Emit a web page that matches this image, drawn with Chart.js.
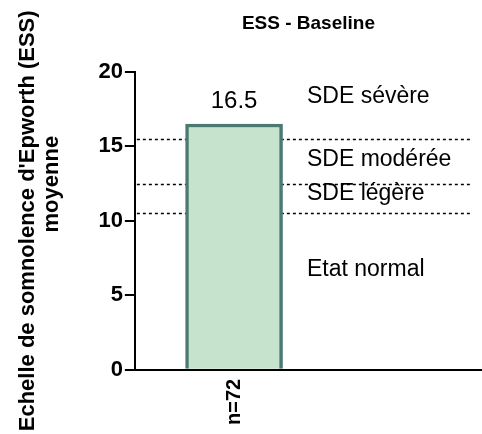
<!DOCTYPE html>
<html>
<head>
<meta charset="utf-8">
<script src="https://cdn.jsdelivr.net/npm/chart.js@4"></script>
<style>
  html, body { margin: 0; padding: 0; background: #fff; }
  #wrap { width: 482px; height: 434px; }
</style>
</head>
<body>
<div id="wrap"><canvas id="essChart"></canvas></div>
<script>
// data
const categories = ['n=72'];
const meanEss = [16.5];
const yTickStep = 5;
const thresholds = [10.5, 12.5, 15.5];
const bandLabels = ['SDE sévère', 'SDE modérée', 'SDE légère', 'Etat normal'];
const bandLabelLevels = [18.35, 14.1, 11.8, 6.7];

const FONT = "'Liberation Sans', Arial, sans-serif";

// dotted severity lines, band labels and the value over the bar
const overlay = {
    id: 'overlay',
    beforeDatasetsDraw(chart) {
        const { ctx, scales: { x, y } } = chart;
        ctx.save();
        ctx.setLineDash([3, 3]);
        ctx.lineWidth = 1.5;
        ctx.strokeStyle = '#000';
        thresholds.forEach(t => {
            const py = Math.round(y.getPixelForValue(t)) + 0.5;
            ctx.beginPath();
            ctx.moveTo(x.getPixelForValue(0) + 2, py);
            ctx.lineTo(x.getPixelForValue(3.4), py);
            ctx.stroke();
        });
        ctx.restore();
    },
    afterDatasetsDraw(chart) {
        const { ctx, scales: { x, y } } = chart;
        ctx.save();
        ctx.fillStyle = '#000';
        ctx.textBaseline = 'middle';
        ctx.font = '23px ' + FONT;
        ctx.textAlign = 'left';
        bandLabels.forEach((txt, i) => {
            ctx.fillText(txt, x.getPixelForValue(1.735), y.getPixelForValue(bandLabelLevels[i]));
        });
        ctx.font = '24px ' + FONT;
        ctx.textAlign = 'center';
        chart.getDatasetMeta(0).data.forEach((bar, i) => {
            ctx.fillText(meanEss[i].toFixed(1), bar.x, bar.y - 23);
        });
        ctx.restore();
    }
};

const ctx = document.getElementById('essChart').getContext('2d');
new Chart(ctx, {
    type: 'bar',
    data: {
        datasets: [{
            label: 'ESS',
            data: meanEss.map((v, i) => ({ x: i + 1, y: v })),
            backgroundColor: 'rgb(198, 228, 205)',
            borderColor: 'rgb(74, 122, 114)',
            borderWidth: 3.5,
            barThickness: 97
        }]
    },
    options: {
        responsive: true,
        maintainAspectRatio: false,
        animation: false,
        layout: { padding: { left: 16, right: 0, top: 0, bottom: 0 } },
        plugins: {
            legend: { display: false },
            tooltip: { enabled: false },
            title: {
                display: true,
                text: 'ESS - Baseline',
                fullSize: false,
                color: '#000',
                font: { family: FONT, size: 19, weight: 'bold', lineHeight: 1.2 },
                padding: { top: 12, bottom: 37 }
            }
        },
        scales: {
            x: {
                type: 'linear',
                offset: false,
                min: 0,
                max: 3.5,
                afterBuildTicks: s => { s.ticks = categories.map((c, i) => ({ value: i + 1 })); },
                grid: { display: false, drawTicks: false },
                border: { display: true, color: '#000', width: 2 },
                ticks: {
                    autoSkip: false,
                    minRotation: 90,
                    maxRotation: 90,
                    padding: 9,
                    color: '#000',
                    font: { family: FONT, size: 20, weight: 'bold' },
                    callback: v => categories[v - 1] || ''
                }
            },
            y: {
                min: 0,
                max: 20,
                grid: { drawOnChartArea: false, drawTicks: true, tickLength: 10, color: '#000', lineWidth: 2 },
                border: { display: true, color: '#000', width: 2 },
                ticks: {
                    stepSize: yTickStep,
                    padding: 2,
                    color: '#000',
                    font: { family: FONT, size: 22, weight: 'bold' }
                },
                title: {
                    display: true,
                    text: ["Echelle de somnolence d'Epworth (ESS)", '            moyenne'],
                    color: '#000',
                    font: { family: FONT, size: 22, weight: 'bold', lineHeight: 1.1 },
                    padding: { top: 0, bottom: 32 }
                }
            }
        }
    },
    plugins: [overlay]
});
</script>
</body>
</html>
